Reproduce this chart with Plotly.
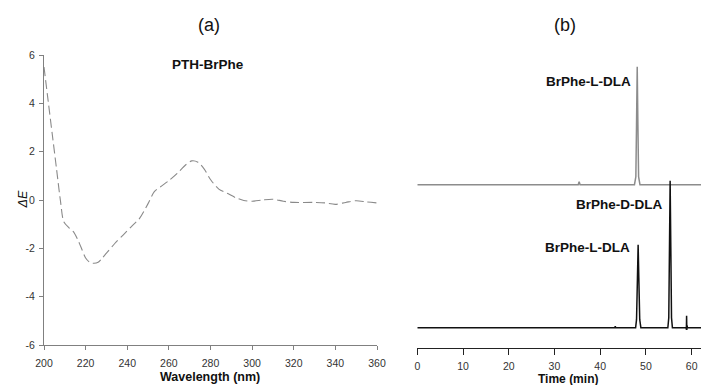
import plotly.graph_objects as go

# ---------- Panel (a): CD spectrum ----------
wavelength = [200, 202, 204, 206, 208, 209.5, 212, 214, 216, 218, 220, 222, 224, 226,
              228, 230, 234, 238, 242, 246, 250, 253, 256, 260, 264, 268, 271, 274,
              277, 280, 284, 288, 292, 296, 300, 305, 310, 315, 320, 330, 335, 340,
              345, 350, 355, 360]
delta_e = [5.5, 4.1, 2.7, 1.3, -0.1, -0.9, -1.15, -1.3, -1.6, -2.0, -2.4, -2.58, -2.62,
           -2.58, -2.4, -2.2, -1.8, -1.45, -1.1, -0.75, -0.15, 0.35, 0.55, 0.8, 1.1,
           1.45, 1.62, 1.56, 1.28, 0.85, 0.45, 0.28, 0.1, -0.02, -0.05, 0.0, 0.03,
           -0.05, -0.1, -0.1, -0.12, -0.18, -0.1, -0.03, -0.08, -0.12]
wl_ticks = [200, 220, 240, 260, 280, 300, 320, 340, 360]
de_ticks = [-6, -4, -2, 0, 2, 4, 6]

# ---------- Panel (b): chromatograms ----------
t_upper = [0, 35.2, 35.4, 35.6, 47.5, 47.8, 47.95, 48.1, 48.25, 48.4, 48.7, 63.8]
i_upper = [0, 0, 3, 0, 0, 8, 60, 118, 60, 8, 0, 0]
upper_offset = 143

t_lower = [0, 43.2, 43.3, 43.4, 47.75, 47.95, 48.15, 48.3, 48.45, 48.65, 48.9,
           54.8, 55.0, 55.15, 55.3, 55.45, 55.6, 55.8, 58.8, 58.85, 58.9, 58.95,
           59.0, 59.1, 63.8]
i_lower = [0, 0, 1.5, 0, 0, 8, 50, 83, 50, 8, 0,
           0, 10, 80, 147, 80, 10, 0, 0, -2, 12, -2.3, 2, 0, 0]
time_ticks = [0, 10, 20, 30, 40, 50, 60]

FONT = "Liberation Sans, Arial, sans-serif"
OFF = 8  # page body margin of the browser
W, H = 709 - OFF, 385 - OFF

def px(x):
    return (x - OFF) / W

def py(y):
    return 1 - (y - OFF) / H

fig = go.Figure()

fig.add_trace(go.Scatter(x=wavelength, y=delta_e, mode="lines",
                         line=dict(color="#8a8a8a", width=1.1, dash="9px,4px", shape="spline", smoothing=0.8),
                         xaxis="x", yaxis="y", showlegend=False, hoverinfo="skip"))

fig.add_trace(go.Scatter(x=t_upper, y=[v + upper_offset for v in i_upper], mode="lines",
                         line=dict(color="#8c8c8c", width=1.5),
                         xaxis="x2", yaxis="y2", showlegend=False, hoverinfo="skip"))
fig.add_trace(go.Scatter(x=t_lower, y=i_lower, mode="lines",
                         line=dict(color="#111111", width=1.5),
                         xaxis="x2", yaxis="y2", showlegend=False, hoverinfo="skip"))

tickfont = dict(size=10.5, color="#333")
fig.update_layout(
    width=W, height=H,
    margin=dict(l=0, r=0, t=0, b=0, autoexpand=False),
    paper_bgcolor="white", plot_bgcolor="white",
    font=dict(family=FONT, color="#222222", size=10),
    xaxis=dict(domain=[px(44), px(377)], range=[200, 360], anchor="y", automargin=False,
               tickvals=wl_ticks, ticks="outside", ticklen=4, tickcolor="#808080",
               ticklabelstandoff=4,
               showline=True, linecolor="#808080", linewidth=1.2,
               showgrid=False, zeroline=False, tickfont=tickfont),
    yaxis=dict(domain=[py(345), py(55)], range=[-6, 6], anchor="x", automargin=False,
               tickvals=de_ticks, ticktext=[str(v) for v in de_ticks],
               ticks="outside", ticklen=4, tickcolor="#808080", ticklabelstandoff=2,
               showline=True, linecolor="#808080", linewidth=1.2,
               showgrid=False, zeroline=False, tickfont=tickfont),
    xaxis2=dict(domain=[px(417.3), 1.0], range=[0, 63.8], anchor="y2", automargin=False,
                tickvals=time_ticks, ticks="outside", ticklen=6, tickcolor="#222",
                ticklabelstandoff=3,
                showline=True, linecolor="#222", linewidth=1.2,
                showgrid=False, zeroline=False, tickfont=tickfont),
    yaxis2=dict(domain=[py(347.7), py(60)], range=[-20, 267.7], anchor="x2",
                visible=False, automargin=False),
)

ann = [
    dict(text="(a)", x=px(209), y=py(25), font=dict(size=18, color="#111")),
    dict(text="(b)", x=px(565), y=py(25), font=dict(size=18, color="#111")),
    dict(text="<b>PTH-BrPhe</b>", x=px(208), y=py(64.5), font=dict(size=13.5, color="#111")),
    dict(text="<b>BrPhe-L-DLA</b>", x=px(588.7), y=py(81), font=dict(size=13.5, color="#111")),
    dict(text="<b>BrPhe-D-DLA</b>", x=px(619), y=py(204.5), font=dict(size=13.5, color="#111")),
    dict(text="<b>BrPhe-L-DLA</b>", x=px(587.5), y=py(247.5), font=dict(size=13.5, color="#111")),
    dict(text="<b>Wavelength (nm)</b>", x=px(210.3), y=py(377), font=dict(size=12.5, color="#111")),
    dict(text="<b>Time (min)</b>", x=px(568), y=py(378.5), font=dict(size=12, color="#111")),
    dict(text="<i>ΔE</i>", x=px(22.5), y=py(200), textangle=-90, font=dict(size=12.5, color="#111")),
]
fig.update_layout(annotations=[dict(xref="paper", yref="paper", showarrow=False,
                                    xanchor="center", yanchor="middle", **a) for a in ann])

fig.write_html("out.html")
